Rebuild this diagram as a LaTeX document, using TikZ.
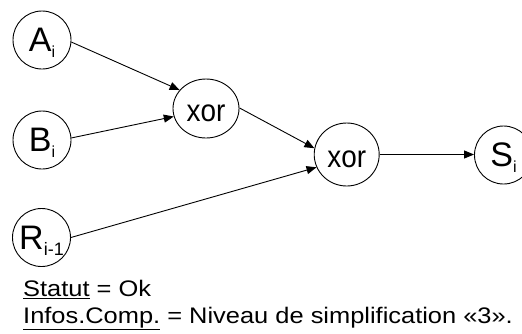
\documentclass[tikz,border=0pt]{standalone}
\usepackage{fontspec}
\setmainfont{Liberation Sans}
\newfontfamily\capfont[FakeStretch=1.13]{Liberation Sans}
\newfontfamily\xorfont[FakeStretch=0.9]{Liberation Sans}
\usetikzlibrary{arrows.meta,shapes.geometric}
\newcommand{\lettlab}[3]{{\fontsize{34}{34}\selectfont #1\raisebox{-6pt}{\fontsize{#3}{#3}\selectfont #2}}}
\begin{document}
\begin{tikzpicture}[x=1pt,y=-1pt,
  letter/.style={draw,circle,line width=0.9pt,minimum size=58pt,inner sep=0pt,text depth=0pt},
  gate/.style={draw,ellipse,line width=0.9pt,inner sep=0pt,text height=25pt,text depth=0pt,
    font=\xorfont\fontsize{31}{31}\selectfont},
  conn/.style={line width=0.9pt,-{Triangle[length=10pt,width=8pt]}},
  caption/.style={anchor=base west,inner sep=0pt,font=\capfont\fontsize{22.5}{22.5}\selectfont}]
\useasboundingbox (0,0) rectangle (522,333);
\node[letter] (A) at (42,40) {\lettlab{A}{i}{16}};
\node[letter] (B) at (42,140) {\lettlab{B}{i}{16}};
\node[letter] (R) at (41.5,237.5) {\lettlab{R}{i-1}{18}};
\node[gate,minimum width=66pt,minimum height=59pt] (x1) at (206,108.5) {xor};
\node[gate,minimum width=65pt,minimum height=63pt] (x2) at (346.7,154.5) {xor};
\node[letter] (S) at (503.5,155) {\lettlab{S}{i}{16}};
\draw[conn] (A.-4) -- (x1.145);
\draw[conn] (B.4.5) -- (x1.-166);
\draw[conn] (x1.1) -- (x2.169);
\draw[conn] (R.east) -- (x2.-157);
\draw[conn] (x2.east) -- (x2.east -| S.west);
\node[caption] (c1) at (23,296.5) {\underline{Statut} = Ok};
\node[caption] (c2) at (23,323.5) {\underline{Infos.Comp.} = Niveau de simplification «3».};
\end{tikzpicture}
\end{document}
